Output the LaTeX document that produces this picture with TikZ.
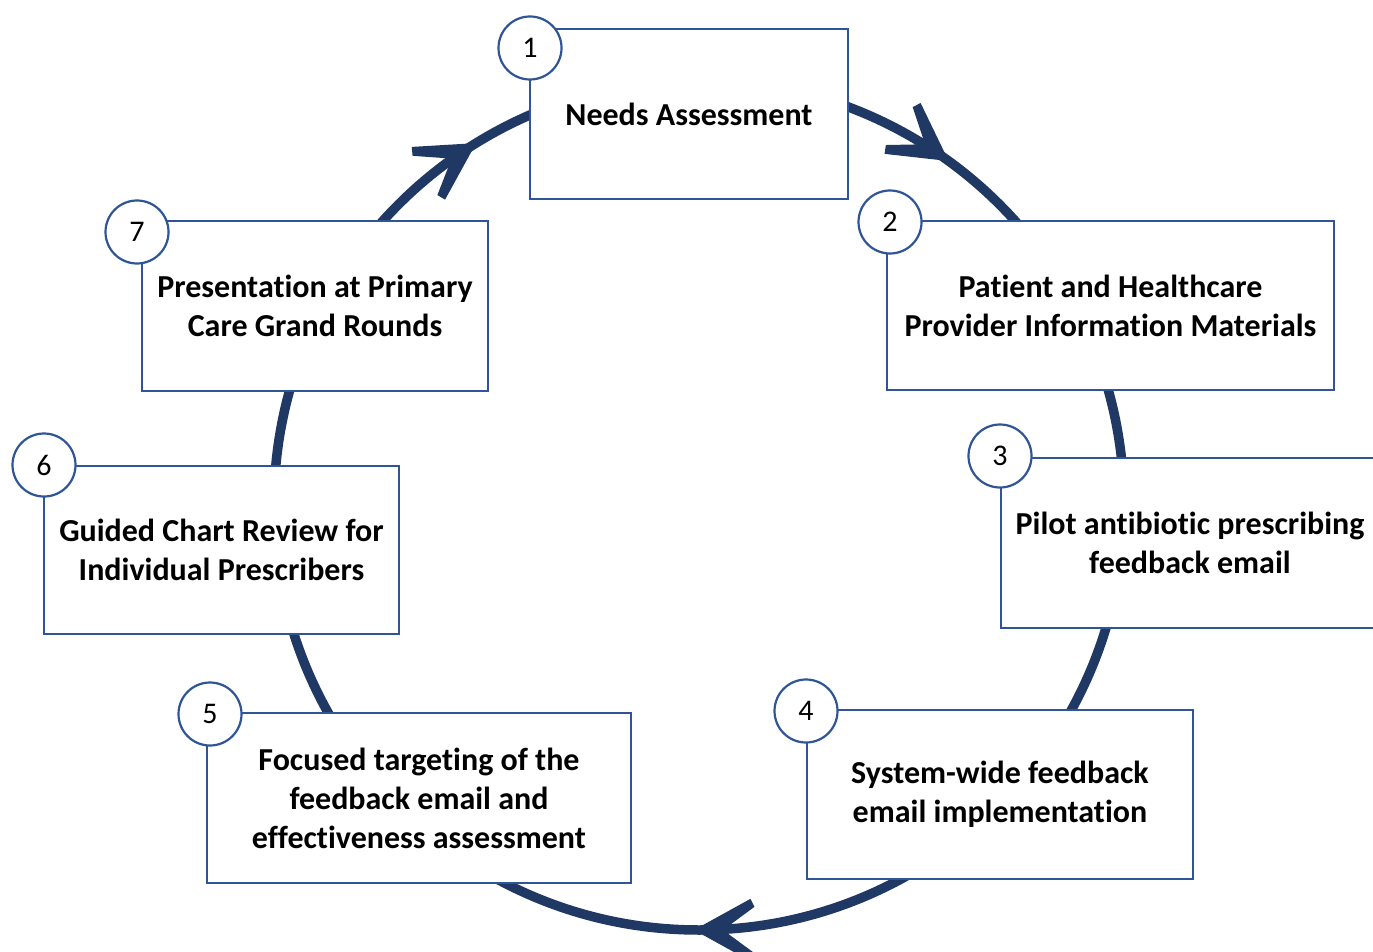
\documentclass[tikz,border=0pt]{standalone}
\usepackage{fontspec}
\setmainfont{Carlito}[RawFeature={-liga}]
\usetikzlibrary{calc}
\definecolor{navy}{HTML}{203864}
\definecolor{boxblue}{HTML}{2F5597}
\begin{document}
\begin{tikzpicture}[x=1pt,y=-1pt,
 box/.style={draw=boxblue, line width=2.5pt, fill=white, align=center, font=\fontsize{32}{39}\selectfont\bfseries, inner sep=0pt},
 num/.style={circle, draw=boxblue, line width=2.2pt, fill=white, minimum size=63pt, inner sep=0pt, font=\fontsize{30}{32}\selectfont},
 ring/.style={draw=navy, line width=9.5pt},
 barb/.style={fill=navy}]
\useasboundingbox (0,0) rectangle (1373,952);
\coordinate (cc) at (699,505);
\draw[ring] (cc) circle[radius=425];
\foreach \a in {-122.3,-54.7,90}{
  \path (cc) ++(\a:425) coordinate (t);
  \begin{scope}[shift={(t)}, rotate={-(\a+90)}]
    \fill[barb] (5,0) -- (-51.5,31.2) -- (-55.5,23.2) -- (-24,0) -- cycle;
    \fill[barb] (5,0) -- (-51.5,-31.2) -- (-55.5,-23.2) -- (-24,0) -- cycle;
  \end{scope}
}
\node[box, minimum width=318pt, minimum height=170pt] (b1) at (689,114) {Needs Assessment};
\node[box, minimum width=447pt, minimum height=169pt] (b2) at (1110.5,305.5) {Patient and Healthcare\\Provider Information Materials};
\node[box, minimum width=378pt, minimum height=170pt] (b3) at (1190,543) {Pilot antibiotic prescribing\\feedback email};
\node[box, minimum width=386pt, minimum height=169pt] (b4) at (1000,794.5) {System-wide feedback\\email implementation};
\node[box, minimum width=424pt, minimum height=170pt] (b5) at (419,798) {Focused targeting of the\\feedback email and\\effectiveness assessment};
\node[box, minimum width=355pt, minimum height=168pt] (b6) at (221.5,550) {Guided Chart Review for\\Individual Prescribers};
\node[box, minimum width=346pt, minimum height=170pt] (b7) at (315,306) {Presentation at Primary\\Care Grand Rounds};
\node[num] (n1) at (530,48) {1};
\node[num] (n2) at (890,222) {2};
\node[num] (n3) at (1000,456) {3};
\node[num] (n4) at (806,711) {4};
\node[num] (n5) at (210,714) {5};
\node[num] (n6) at (44,465) {6};
\node[num] (n7) at (137,232) {7};
\end{tikzpicture}
\end{document}
